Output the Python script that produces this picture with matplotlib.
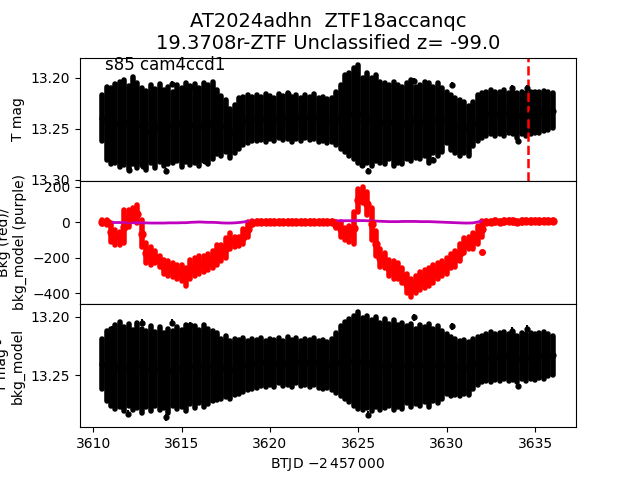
import numpy as np
import matplotlib
matplotlib.use("Agg")
import matplotlib.pyplot as plt

# Tiempos de muestreo (BTJD - 2457000), lectura cada 0.25 d
t = [3610.50, 3610.75, 3611.00, 3611.25, 3611.50, 3611.75, 3612.00, 3612.25, 3612.50, 3612.75,
     3613.00, 3613.25, 3613.50, 3613.75, 3614.00, 3614.25, 3614.50, 3614.75, 3615.00, 3615.25,
     3615.50, 3615.75, 3616.00, 3616.25, 3616.50, 3616.75, 3617.00, 3617.25, 3617.50, 3617.75,
     3618.00, 3618.25, 3618.50, 3618.75, 3619.00, 3619.25, 3619.50, 3619.75, 3620.00, 3620.25,
     3620.50, 3620.75, 3621.00, 3621.25, 3621.50, 3621.75, 3622.00, 3622.25, 3622.50, 3622.75,
     3623.00, 3623.25, 3623.50, 3623.75, 3624.00, 3624.25, 3624.50, 3624.75, 3625.00, 3625.25,
     3625.50, 3625.75, 3626.00, 3626.25, 3626.50, 3626.75, 3627.00, 3627.25, 3627.50, 3627.75,
     3628.00, 3628.25, 3628.50, 3628.75, 3629.00, 3629.25, 3629.50, 3629.75, 3630.00, 3630.25,
     3630.50, 3630.75, 3631.00, 3631.25, 3631.50, 3631.75, 3632.00, 3632.25, 3632.50, 3632.75,
     3633.00, 3633.25, 3633.50, 3633.75, 3634.00, 3634.25, 3634.50, 3634.75, 3635.00, 3635.25,
     3635.50, 3635.75, 3636.00]

# Panel 1: T mag, borde brillante / borde debil de la banda
mag_bright = [13.217, 13.209, 13.210, 13.206, 13.204, 13.202, 13.208, 13.199, 13.205, 13.210,
              13.213, 13.207, 13.211, 13.206, 13.212, 13.209, 13.214, 13.207, 13.210, 13.205,
              13.208, 13.206, 13.210, 13.205, 13.207, 13.204, 13.212, 13.218, 13.222, 13.230,
              13.226, 13.220, 13.219, 13.217, 13.219, 13.217, 13.219, 13.216, 13.218, 13.220,
              13.216, 13.218, 13.215, 13.219, 13.217, 13.220, 13.217, 13.219, 13.216, 13.220,
              13.219, 13.221, 13.220, 13.214, 13.207, 13.197, 13.195, 13.190, 13.187, 13.200,
              13.195, 13.200, 13.197, 13.204, 13.205, 13.207, 13.204, 13.207, 13.209, 13.205,
              13.202, 13.209, 13.207, 13.204, 13.205, 13.209, 13.205, 13.210, 13.214, 13.217,
              13.220, 13.222, 13.224, 13.227, 13.224, 13.217, 13.215, 13.214, 13.212, 13.214,
              13.214, 13.212, 13.215, 13.214, 13.215, 13.214, 13.215, 13.214, 13.214, 13.214,
              13.213, 13.214, 13.215]
mag_faint = [13.262, 13.280, 13.284, 13.283, 13.287, 13.285, 13.289, 13.284, 13.288, 13.285,
             13.290, 13.283, 13.288, 13.282, 13.286, 13.284, 13.283, 13.281, 13.287, 13.282,
             13.285, 13.283, 13.286, 13.281, 13.284, 13.279, 13.275, 13.276, 13.273, 13.278,
             13.274, 13.270, 13.266, 13.264, 13.262, 13.262, 13.261, 13.263, 13.260, 13.262,
             13.259, 13.261, 13.260, 13.263, 13.260, 13.262, 13.259, 13.261, 13.260, 13.263,
             13.262, 13.264, 13.263, 13.266, 13.270, 13.273, 13.276, 13.279, 13.283, 13.284,
             13.283, 13.286, 13.281, 13.283, 13.284, 13.279, 13.286, 13.283, 13.284, 13.279,
             13.281, 13.278, 13.279, 13.276, 13.283, 13.274, 13.276, 13.273, 13.264, 13.271,
             13.274, 13.276, 13.274, 13.276, 13.267, 13.262, 13.259, 13.257, 13.255, 13.257,
             13.255, 13.257, 13.254, 13.255, 13.259, 13.255, 13.257, 13.255, 13.254, 13.254,
             13.252, 13.251, 13.249]
out1_t = [3612.00, 3612.83, 3614.11, 3614.45, 3615.47, 3616.32, 3621.00, 3625.19, 3625.56,
          3628.17, 3629.21, 3630.28, 3633.71, 3634.05, 3634.56]
out1_m = [13.290, 13.286, 13.291, 13.206, 13.209, 13.281, 13.216, 13.285, 13.291,
          13.203, 13.280, 13.207, 13.210, 13.262, 13.210]

# Panel 2: fondo (rojo) centro y semi-ancho, modelo de fondo (morado)
bkg = [2, 0, -57, -85, -91, -24, 22, 47, 47, -63,
       -173, -190, -195, -220, -250, -260, -270, -280, -285, -310,
       -265, -250, -240, -235, -225, -210, -185, -175, -145, -105,
       -110, -110, -80, -40, -3, 2, 3, 1, 3, 2,
       3, 1, 2, 3, 1, 2, 3, 2, 1, 3,
       2, 3, 1, -15, -40, -65, -65, -30, 125, 155,
       105, -10, -120, -200, -215, -255, -270, -275, -300, -345,
       -370, -350, -330, -320, -310, -290, -275, -260, -245, -220,
       -205, -170, -130, -115, -105, -70, -35, 2, 4, 5,
       4, 5, 6, 5, 4, 5, 6, 5, 6, 5,
       6, 7, 6]
bkg_err = [12, 15, 52, 43, 37, 93, 48, 34, 50, 76,
           56, 50, 35, 30, 40, 40, 40, 40, 45, 50,
           55, 50, 50, 45, 45, 50, 55, 45, 55, 45,
           30, 25, 40, 40, 12, 6, 6, 6, 6, 6,
           6, 6, 6, 6, 6, 6, 6, 6, 6, 6,
           6, 6, 6, 15, 40, 35, 45, 90, 65, 45,
           65, 90, 70, 50, 45, 45, 50, 45, 40, 55,
           50, 50, 50, 50, 50, 50, 45, 40, 45, 40,
           45, 50, 40, 35, 45, 50, 45, 8, 6, 6,
           6, 6, 6, 6, 6, 6, 6, 6, 6, 6,
           6, 6, 6]
out2_t = [3632.00]
out2_b = [-167]
bkg_model = [2, 1, 0, -1, -1, -2, -2, -2, -3, -3,
             -3, -4, -4, -4, -4, -3, -3, -3, -2, -2,
             0, 1, 2, 1, 0, 0, -1, -3, -4, -4,
             -3, -1, 2, 6, 8, 8, 7, 6, 5, 4,
             4, 5, 5, 4, 4, 5, 6, 7, 7, 7,
             6, 6, 7, 8, 9, 9, 9, 9, 10, 10,
             9, 8, 7, 6, 5, 4, 4, 4, 5, 5,
             5, 5, 4, 4, 4, 3, 2, 1, 0, -1,
             -2, -3, -4, -4, -3, 2, 7, 9, 9, 8,
             7, 6, 6, 5, 5, 5, 4, 4, 4, 4,
             4, 4, 4]

# Panel 3: T mag - bkg_model
cor_bright = [13.219, 13.212, 13.210, 13.207, 13.204, 13.209, 13.206, 13.211, 13.205, 13.210,
              13.212, 13.208, 13.213, 13.209, 13.214, 13.210, 13.212, 13.209, 13.211, 13.207,
              13.210, 13.208, 13.211, 13.207, 13.210, 13.212, 13.214, 13.219, 13.216, 13.221,
              13.219, 13.220, 13.218, 13.221, 13.219, 13.220, 13.218, 13.221, 13.219, 13.220,
              13.218, 13.221, 13.217, 13.220, 13.218, 13.221, 13.219, 13.220, 13.218, 13.221,
              13.220, 13.222, 13.219, 13.214, 13.208, 13.204, 13.202, 13.199, 13.196, 13.201,
              13.199, 13.203, 13.200, 13.205, 13.202, 13.206, 13.203, 13.207, 13.205, 13.208,
              13.206, 13.210, 13.207, 13.209, 13.206, 13.210, 13.208, 13.212, 13.215, 13.217,
              13.219, 13.221, 13.220, 13.222, 13.219, 13.217, 13.216, 13.215, 13.213, 13.215,
              13.214, 13.213, 13.215, 13.214, 13.216, 13.214, 13.215, 13.214, 13.215, 13.214,
              13.213, 13.215, 13.216]
cor_faint = [13.262, 13.272, 13.276, 13.279, 13.277, 13.281, 13.276, 13.280, 13.278, 13.282,
             13.277, 13.281, 13.276, 13.280, 13.278, 13.282, 13.276, 13.279, 13.277, 13.281,
             13.275, 13.278, 13.274, 13.277, 13.275, 13.272, 13.271, 13.270, 13.269, 13.270,
             13.267, 13.266, 13.264, 13.263, 13.262, 13.261, 13.259, 13.260, 13.258, 13.260,
             13.257, 13.259, 13.258, 13.260, 13.257, 13.259, 13.258, 13.260, 13.258, 13.261,
             13.262, 13.261, 13.263, 13.265, 13.268, 13.270, 13.273, 13.276, 13.279, 13.280,
             13.278, 13.281, 13.277, 13.280, 13.278, 13.276, 13.280, 13.277, 13.279, 13.274,
             13.277, 13.275, 13.276, 13.273, 13.277, 13.272, 13.274, 13.270, 13.266, 13.268,
             13.267, 13.268, 13.266, 13.267, 13.262, 13.258, 13.256, 13.255, 13.256, 13.254,
             13.255, 13.253, 13.255, 13.254, 13.256, 13.253, 13.255, 13.253, 13.254, 13.252,
             13.253, 13.251, 13.250]
out3_t = [3611.06, 3611.97, 3612.74, 3614.11, 3614.45, 3615.47, 3625.56, 3628.17, 3630.28,
          3633.71, 3634.05, 3634.56]
out3_m = [13.211, 13.283, 13.205, 13.286, 13.205, 13.207, 13.284, 13.2005, 13.208,
          13.212, 13.259, 13.210]

t_marca = 3634.6

# Banda: centro y semi-ancho
t = np.array(t)
m1 = (np.array(mag_bright) + np.array(mag_faint)) / 2
e1 = (np.array(mag_faint) - np.array(mag_bright)) / 2
m3 = (np.array(cor_bright) + np.array(cor_faint)) / 2
e3 = (np.array(cor_faint) - np.array(cor_bright)) / 2


def banda(ax, y, err, color, ms):
    eb = ax.errorbar(t, y, yerr=err, fmt='o', color=color, ms=ms, elinewidth=4)
    for col in eb[2]:
        col.set_capstyle('round')
    return eb


fig, (ax1, ax2, ax3) = plt.subplots(3, 1, sharex=True, figsize=(6.4, 4.8), dpi=100)
fig.subplots_adjust(hspace=0)

# Panel superior
banda(ax1, m1, e1, 'k', 3.5)
ax1.errorbar(out1_t, out1_m, yerr=0.003, fmt='o', color='k', ms=3.5, elinewidth=1.5)
ax1.axvline(t_marca, color='r', ls='--', lw=1.8)
ax1.set_ylim(13.3008, 13.180)
ax1.set_yticks([13.20, 13.25, 13.30])
ax1.set_ylabel('T mag')
ax1.text(0.05, 0.90, 's85 cam4ccd1', transform=ax1.transAxes, fontsize=12)
ax1.set_title('AT2024adhn  ZTF18accanqc\n19.3708r-ZTF Unclassified z= -99.0', fontsize=14)

# Panel central
banda(ax2, bkg, bkg_err, 'r', 5)
ax2.plot(out2_t, out2_b, 'o', color='r', ms=4)
ax2.plot(t, bkg_model, '-', color='m', lw=2)
ax2.set_ylim(-460, 234)
ax2.set_yticks([-400, -200, 0, 200])
ax2.set_ylabel('Bkg (red)/\nbkg_model (purple)')

# Panel inferior
banda(ax3, m3, e3, 'k', 3.5)
ax3.errorbar(out3_t, out3_m, yerr=0.003, fmt='o', color='k', ms=3.5, elinewidth=1.5)
ax3.set_ylim(13.2946, 13.189)
ax3.set_yticks([13.20, 13.25])
ax3.set_ylabel('T mag -\nbkg_model')

ax3.set_xlim(3609.25, 3637.32)
ax3.set_xticks([3610, 3615, 3620, 3625, 3630, 3635])
ax3.set_xlabel('BTJD $-2\\,457\\,000$')

fig.savefig('out.png')
